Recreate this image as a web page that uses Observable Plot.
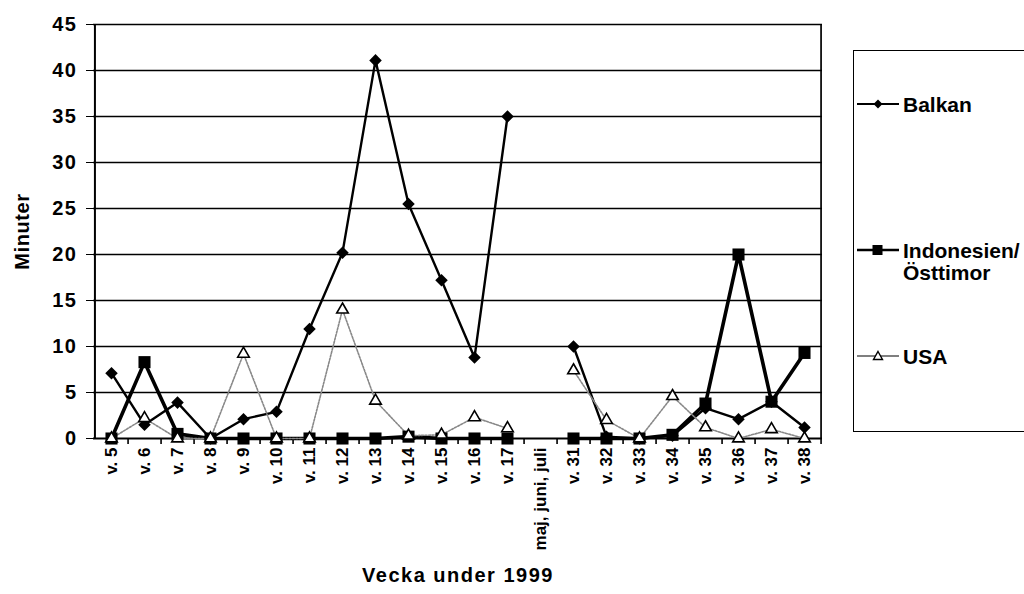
<!DOCTYPE html>
<html><head><meta charset="utf-8">
<script src="https://cdn.jsdelivr.net/npm/d3@7"></script>
<script src="https://cdn.jsdelivr.net/npm/@observablehq/plot@0.6"></script>
<style>
body{margin:0;background:#fff;overflow:hidden;}
#wrap{position:relative;width:1024px;height:594px;overflow:hidden;font-family:"Liberation Sans",Arial,sans-serif;font-weight:bold;color:#000;}
#chart{position:absolute;left:0;top:0;}
#legend{position:absolute;left:853px;top:50px;width:220px;height:382px;border:1.6px solid #000;box-sizing:border-box;background:#fff;}
.item{position:absolute;left:2px;display:flex;align-items:flex-start;}
.item svg{flex:none;}
.item span{font-size:21px;line-height:22px;margin-left:3px;white-space:pre;}
svg text{font-family:"Liberation Sans",Arial,sans-serif;font-weight:bold;}
</style></head><body>
<div id="wrap"><div id="chart"></div><div id="legend"></div></div>
<script>
const weeks = ["v. 5","v. 6","v. 7","v. 8","v. 9","v. 10","v. 11","v. 12","v. 13","v. 14","v. 15","v. 16","v. 17","maj, juni, juli","v. 31","v. 32","v. 33","v. 34","v. 35","v. 36","v. 37","v. 38"];
const balkan     = [7.1, 1.5, 3.9, 0, 2.1, 2.9, 11.9, 20.2, 41.1, 25.5, 17.2, 8.8, 35, null, 10, 0.2, 0, 0.3, 3.3, 2.1, 4, 1.2];
const indonesien = [0, 8.3, 0.5, 0, 0, 0, 0, 0, 0, 0.2, 0, 0, 0, null, 0, 0, 0, 0.4, 3.8, 20, 4, 9.3];
const usa        = [0, 2.2, 0, 0, 9.2, 0, 0, 14, 4.1, 0.3, 0.4, 2.3, 1.1, null, 7.4, 2, 0, 4.6, 1.2, 0, 1, 0];
const yTicks = [0, 5, 10, 15, 20, 25, 30, 35, 40, 45];
const seriesNames = ["Balkan", "Indonesien/\nÖsttimor", "USA"];
const xTitle = "Vecka under 1999", yTitle = "Minuter";

const W = 1024, H = 594, mL = 93, mR = 202, mT = 24, mB = 156;
const step = (W - mL - mR) / weeks.length;

const chart = Plot.plot({
  width: W, height: H,
  marginLeft: mL, marginRight: mR, marginTop: mT, marginBottom: mB,
  style: {fontFamily: '"Liberation Sans", Arial, sans-serif', fontSize: "17px", fontWeight: "bold", color: "#000", background: "#fff", overflow: "visible"},
  x: {type: "point", domain: weeks, padding: 0.5, tickRotate: -90, tickSize: 0, tickPadding: 9,
      label: xTitle, labelAnchor: "center", labelOffset: 143, labelArrow: "none"},
  y: {domain: [0, 45], ticks: yTicks, tickSize: 7, tickPadding: 9,
      label: yTitle, labelAnchor: "center", labelOffset: 79, labelArrow: "none"},
  marks: [
    Plot.ruleY(yTicks.filter(d => d > 0), {stroke: "#000", strokeWidth: 1.7}),
    Plot.ruleX([weeks[weeks.length - 1]], {dx: step / 2, stroke: "#000", strokeWidth: 1.7}),
    Plot.ruleX([weeks[0]], {dx: -step / 2, stroke: "#000", strokeWidth: 2}),
    Plot.ruleY([0], {stroke: "#000", strokeWidth: 2.2}),
    Plot.ruleX(weeks, {x: d => d, y1: 0, y2: 0, insetBottom: -6, dx: step / 2, stroke: "#000", strokeWidth: 1.6}),
    Plot.line(indonesien, {x: weeks, y: d => d, stroke: "#000", strokeWidth: 3.6}),
    Plot.line(balkan, {x: weeks, y: d => d, stroke: "#000", strokeWidth: 2.4}),
    Plot.line(usa, {x: weeks, y: d => d, stroke: "#888", strokeWidth: 1.6, strokeDasharray: "2,1.5"}),
    Plot.dot(indonesien, {x: weeks, y: d => d, symbol: "square", r: 6.8, fill: "#000", stroke: "none"}),
    Plot.dot(balkan, {x: weeks, y: d => d, symbol: "square", rotate: 45, r: 5, fill: "#000", stroke: "none"}),
    Plot.dot(usa, {x: weeks, y: d => d, symbol: "triangle", r: 4.3, fill: "#fff", stroke: "#000", strokeWidth: 1.6})
  ]
});
document.getElementById("chart").appendChild(chart);

// font sizes by role (robust across Plot versions)
const yTickSet = new Set(yTicks.map(String));
const weekSet = new Set(weeks);
chart.querySelectorAll("text").forEach(t => {
  const s = t.textContent.trim();
  let fs = null, ls = null;
  if (weekSet.has(s)) fs = 17;
  else if (yTickSet.has(s)) { fs = 20; ls = 1.5; }
  else if (s === xTitle) { fs = 20; ls = 1.5; }
  else if (s === yTitle) { fs = 20; ls = 0.6; }
  if (fs) { t.style.fontSize = fs + "px"; t.setAttribute("font-size", fs); }
  if (ls) t.style.letterSpacing = ls + "px";
});

// legend
const legend = document.getElementById("legend");
const itemTops = [43, 189, 295];
const swatch = [
  `<svg width="44" height="20"><line x1="1" y1="10" x2="43" y2="10" stroke="#000" stroke-width="1.8"/><path d="M22 5.5 L26.5 10 L22 14.5 L17.5 10 Z" fill="#000"/></svg>`,
  `<svg width="44" height="20"><line x1="1" y1="10" x2="43" y2="10" stroke="#000" stroke-width="2.4"/><rect x="16.5" y="5" width="10" height="10" fill="#000"/></svg>`,
  `<svg width="44" height="20"><line x1="1" y1="10" x2="43" y2="10" stroke="#555" stroke-width="1.6"/><path d="M22 5.5 L26.5 13.5 L17.5 13.5 Z" fill="#fff" stroke="#000" stroke-width="1.4"/></svg>`
];
seriesNames.forEach((name, i) => {
  const it = document.createElement("div");
  it.className = "item";
  it.style.top = itemTops[i] + "px";
  it.innerHTML = swatch[i] + `<span>${name}</span>`;
  legend.appendChild(it);
});
</script>
</body></html>
